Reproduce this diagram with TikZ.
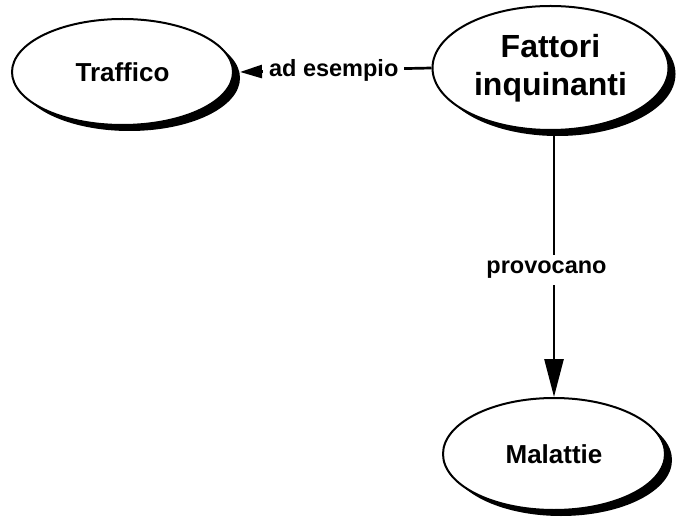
\documentclass[tikz,border=0pt]{standalone}
\usepackage{fontspec}
\setmainfont{Liberation Sans}
\usetikzlibrary{shapes.geometric,shadows,arrows.meta}
\begin{document}
\begin{tikzpicture}[x=1pt,y=-1pt,
  concept/.style={ellipse, draw=black, line width=2pt, fill=white, inner sep=0pt,
    align=center, font=\bfseries,
    drop shadow={shadow xshift=7pt, shadow yshift=-6pt, fill=black, opacity=1}},
  link/.style={line width=2.7pt},
  lab/.style={fill=white, inner ysep=6pt, inner xsep=6pt, font=\bfseries\fontsize{23.5}{28}\selectfont}
]
\useasboundingbox (0,0) rectangle (676,518);
\node[concept, minimum width=221pt, minimum height=106pt, font=\bfseries\fontsize{26}{31}\selectfont] (traf) at (122.5,72) {Traffico};
\node[concept, minimum width=236pt, minimum height=124pt, font=\bfseries\fontsize{32}{38}\selectfont] (fat) at (550.5,68) {Fattori\\inquinanti};
\node[concept, minimum width=222pt, minimum height=112pt, font=\bfseries\fontsize{26}{31}\selectfont] (mal) at (554,454) {Malattie};
\coordinate (tip1) at (240,72);
\draw[link, -{Triangle[length=22pt, width=13pt]}] (fat.west) -- node[lab, xshift=-2pt] (l1) {ad esempio} (tip1);
\draw[link, -{Triangle[length=38pt, width=19pt]}] (fat.south -| mal.north) -- node[lab, xshift=-7.5pt, yshift=-6pt] (l2) {provocano} (mal.north);
\end{tikzpicture}
\end{document}
